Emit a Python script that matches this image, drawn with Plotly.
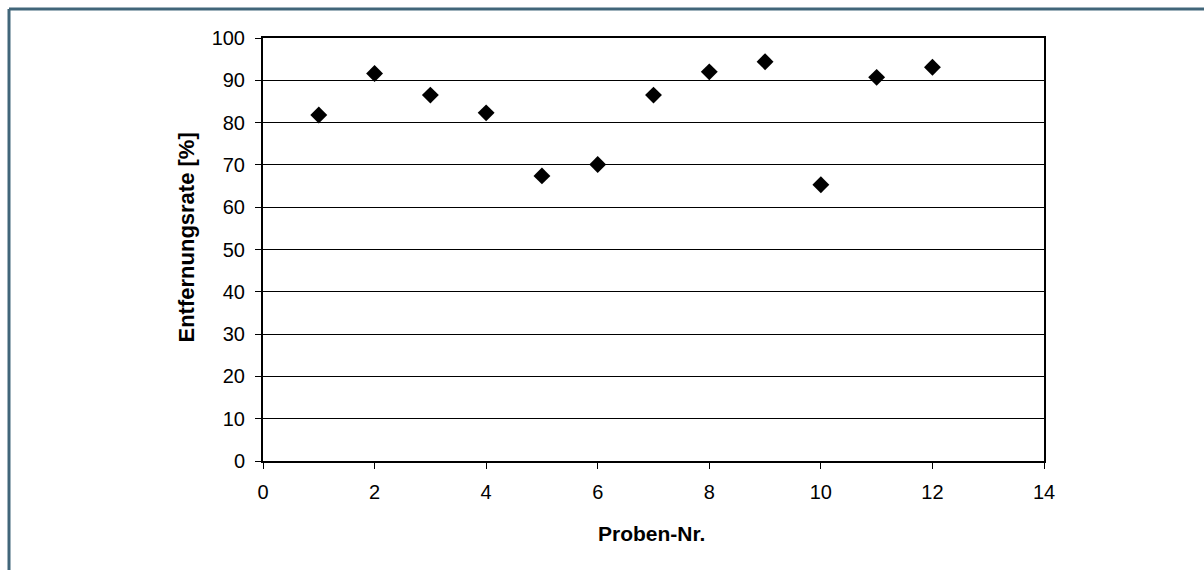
import plotly.graph_objects as go

proben_nr = [1, 2, 3, 4, 5, 6, 7, 8, 9, 10, 11, 12]
entfernungsrate = [81.8, 91.6, 86.5, 82.3, 67.4, 70.1, 86.5, 92.0, 94.4, 65.3, 90.7, 93.1]
x_title = "Proben-Nr."
y_title = "Entfernungsrate [%]"

W, H = 1204, 570
L, R, T, B = 263, 160, 38, 109
pw, ph = W - L - R, H - T - B

def px_x(p):
    return (p - L) / pw

def px_y(p):
    return (H - B - p) / ph

fig = go.Figure()
fig.add_trace(go.Scatter(
    x=proben_nr, y=entfernungsrate, mode="markers",
    marker=dict(symbol="diamond", size=13, color="black"),
    showlegend=False,
))

bx = px_x(9)
by = px_y(9)
fig.add_shape(type="line", xref="paper", yref="paper", x0=bx, x1=bx, y0=by, y1=-2,
              line=dict(color="#41667a", width=3))
fig.add_shape(type="line", xref="paper", yref="paper", x0=bx, x1=3, y0=by, y1=by,
              line=dict(color="#41667a", width=3))

fig.add_annotation(text="<b>%s</b>" % y_title, xref="paper", yref="paper",
                   x=px_x(186), y=px_y(237.5), textangle=-90, showarrow=False,
                   xanchor="center", yanchor="middle",
                   font=dict(size=22, color="black"))
fig.add_annotation(text="<b>%s</b>" % x_title, xref="paper", yref="paper",
                   x=px_x(651), y=px_y(533), showarrow=False,
                   xanchor="center", yanchor="middle",
                   font=dict(size=21, color="black"))

fig.update_layout(
    width=W, height=H,
    margin=dict(l=L, r=R, t=T, b=B),
    paper_bgcolor="white", plot_bgcolor="white",
    font=dict(family="Liberation Sans, Arial, sans-serif", size=20, color="black"),
    xaxis=dict(
        range=[0, 14], tickvals=list(range(0, 15, 2)),
        showgrid=False, zeroline=False,
        showline=True, linecolor="black", linewidth=2, mirror=True,
        ticks="outside", ticklen=6, tickcolor="black", tickwidth=1,
        ticklabelstandoff=6,
    ),
    yaxis=dict(
        range=[0, 100], tickvals=list(range(0, 101, 10)),
        showgrid=True, gridcolor="black", gridwidth=1, zeroline=False,
        showline=True, linecolor="black", linewidth=2, mirror=True,
        ticks="outside", ticklen=6, tickcolor="black", tickwidth=1,
        ticklabelstandoff=6,
    ),
)

fig.write_html("out.html")
